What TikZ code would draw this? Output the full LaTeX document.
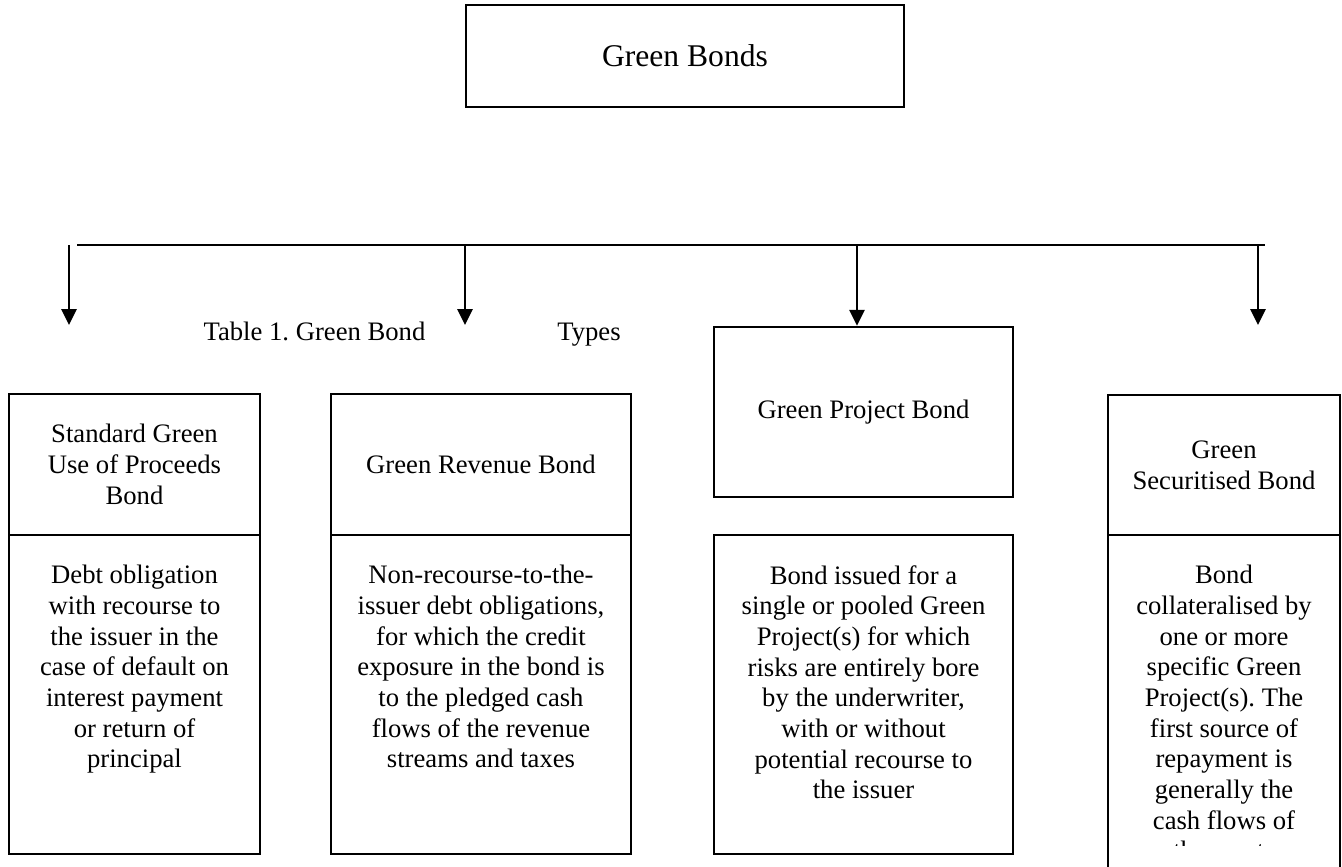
\documentclass[tikz,border=0pt]{standalone}
\usepackage{fontspec}
\setmainfont{Liberation Serif}
\usetikzlibrary{arrows.meta}
\frenchspacing
\begin{document}
\begin{tikzpicture}[x=0.75pt,y=-0.75pt,
  box/.style={draw, line width=1.8pt, inner sep=0pt, align=center, font=\fontsize{20}{23}\selectfont},
  txt/.style={inner sep=0pt, align=center, font=\fontsize{20}{23}\selectfont},
  conn/.style={line width=1.6pt},
  arr/.style={line width=1.6pt, -{Triangle[length=12pt,width=11.5pt]}},
  ]
\useasboundingbox (0,0) rectangle (1342,867);
\fill[white] (0,0) rectangle (1342,867);
\clip (0,0) rectangle (1342,867);

% title
\node[box, minimum width=328.5pt, minimum height=76.5pt, font=\fontsize{23.7}{27}\selectfont] (title) at (685,56) {Green Bonds};

% bar and arrows
\coordinate (hl) at (77,245);
\coordinate (hr) at (1265,245);
\draw[conn] (hl) -- (hr);

\coordinate (a1s) at (69,245);   \coordinate (a1e) at (69,325);
\coordinate (a2s) at (465,245);  \coordinate (a2e) at (465,325);
\coordinate (a3s) at (857,245);
\coordinate (a4s) at (1258,245); \coordinate (a4e) at (1258,325);

% caption
\node[txt, anchor=base] (cap1) at (314.5,340) {Table 1. Green Bond};
\node[txt, anchor=base] (cap2) at (589,340) {Types};

% column 1
\node[box, minimum width=188.25pt, minimum height=105.75pt] (b1h) at (134.5,464.5) {Standard Green\\Use of Proceeds\\Bond};
\node[box, minimum width=188.25pt, minimum height=239.25pt] (b1b) at (134.5,694.5) {};
\node[txt, anchor=north] (t1) at (134.5,565) {Debt obligation\\with recourse to\\the issuer in the\\case of default on\\interest payment\\or return of\\principal};

% column 2
\node[box, minimum width=225pt, minimum height=105.75pt] (b2h) at (481,464.5) {Green Revenue Bond};
\node[box, minimum width=225pt, minimum height=239.25pt] (b2b) at (481,694.5) {};
\node[txt, anchor=north] (t2) at (481,565) {Non-recourse-to-the-\\issuer debt obligations,\\for which the credit\\exposure in the bond is\\to the pledged cash\\flows of the revenue\\streams and taxes};

% column 3
\node[box, minimum width=224.25pt, minimum height=127.5pt] (b3h) at (863.5,412) {Green Project Bond};
\node[box, minimum width=224.25pt, minimum height=239.25pt] (b3b) at (863.5,694.5) {};
\node[txt, anchor=north] (t3) at (863.5,565) {Bond issued for a\\single or pooled Green\\Project(s) for which\\risks are entirely bore\\by the underwriter,\\with or without\\potential recourse to\\the issuer};

% column 4
\node[box, minimum width=174pt, minimum height=105pt] (b4h) at (1224,465) {Green\\Securitised Bond};
\node[box, minimum width=174pt, minimum height=273.75pt] (b4b) at (1224,717.5) {};
\begin{scope}
\clip (1108,535) rectangle (1340,845);
\node[txt, anchor=north] (t4) at (1224,565) {Bond\\collateralised by\\one or more\\specific Green\\Project(s). The\\first source of\\repayment is\\generally the\\cash flows of\\the assets};
\end{scope}

% arrows
\draw[arr] (a1s) -- (a1e);
\draw[arr] (a2s) -- (a2e);
\draw[arr] (a3s) -- (a3s |- b3h.north);
\draw[arr] (a4s) -- (a4e);
\end{tikzpicture}
\end{document}
